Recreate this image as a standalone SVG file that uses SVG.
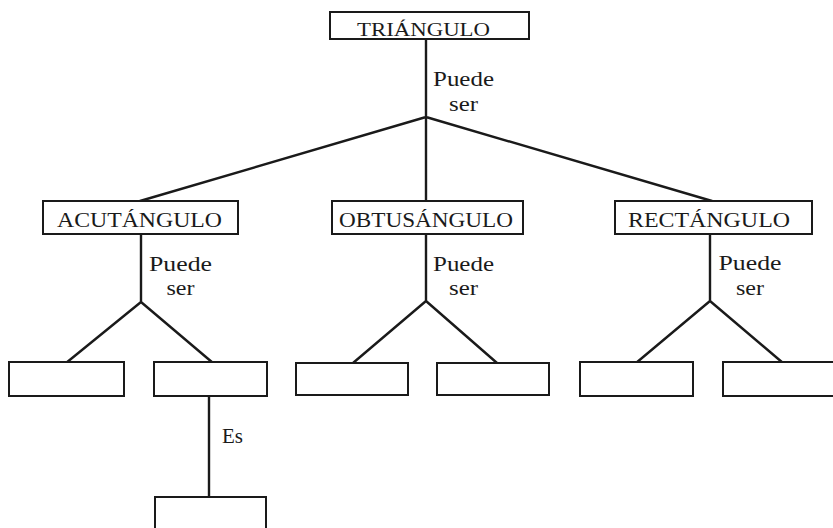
<svg xmlns="http://www.w3.org/2000/svg" width="833" height="528" viewBox="0 0 833 528">
<style>
.box{fill:#fff;stroke:#1a1a1a;stroke-width:2}
.ln{fill:none;stroke:#1a1a1a;stroke-width:2.4;stroke-linecap:round;stroke-linejoin:round}
.t{font-family:"Liberation Serif","Times New Roman",serif;fill:#1a1a1a;text-anchor:middle}
.n1{font-size:19px}
.n2{font-size:21px}
.lbl{font-size:20px}
</style>
<rect x="0" y="0" width="833" height="528" fill="#fff"/>
<g id="connectors">
  <path class="ln" d="M426,39 V117 M426,117 L140,201 M426,117 V201 M426,117 L712,201"/>
  <path class="ln" d="M141,234 V302 M141,302 L66,363 M141,302 L213,363"/>
  <path class="ln" d="M426,234 V301 M426,301 L353,363 M426,301 L497,363"/>
  <path class="ln" d="M710,234 V301 M710,301 L636,363 M710,301 L783,363"/>
  <path class="ln" d="M209,396 V497"/>
  <text class="t lbl" x="463.5" y="86" textLength="61" lengthAdjust="spacingAndGlyphs">Puede</text>
  <text class="t lbl" x="463.5" y="111" textLength="29" lengthAdjust="spacingAndGlyphs">ser</text>
  <text class="t lbl" x="180.5" y="271" textLength="63" lengthAdjust="spacingAndGlyphs">Puede</text>
  <text class="t lbl" x="180.5" y="295" textLength="28" lengthAdjust="spacingAndGlyphs">ser</text>
  <text class="t lbl" x="463.5" y="271" textLength="61" lengthAdjust="spacingAndGlyphs">Puede</text>
  <text class="t lbl" x="463.5" y="295" textLength="29" lengthAdjust="spacingAndGlyphs">ser</text>
  <text class="t lbl" x="750" y="270" textLength="63" lengthAdjust="spacingAndGlyphs">Puede</text>
  <text class="t lbl" x="750" y="295" textLength="28" lengthAdjust="spacingAndGlyphs">ser</text>
  <text class="t lbl" x="232.5" y="443" textLength="21" lengthAdjust="spacingAndGlyphs">Es</text>
</g>
<g id="triangulo">
  <rect class="box" x="330" y="12" width="199" height="27"/>
  <text class="t n1" x="423.5" y="36" textLength="133" lengthAdjust="spacingAndGlyphs">TRIÁNGULO</text>
</g>
<g id="acutangulo">
  <rect class="box" x="43" y="201" width="195" height="33"/>
  <text class="t n2" x="139.5" y="227" textLength="165" lengthAdjust="spacingAndGlyphs">ACUTÁNGULO</text>
</g>
<g id="obtusangulo">
  <rect class="box" x="332" y="201" width="191" height="33"/>
  <text class="t n2" x="426" y="227" textLength="174" lengthAdjust="spacingAndGlyphs">OBTUSÁNGULO</text>
</g>
<g id="rectangulo">
  <rect class="box" x="615" y="201" width="197" height="33"/>
  <text class="t n2" x="709" y="227" textLength="162" lengthAdjust="spacingAndGlyphs">RECTÁNGULO</text>
</g>
<g id="acut-1"><rect class="box" x="9" y="362" width="115" height="34"/></g>
<g id="acut-2"><rect class="box" x="154" y="362" width="113" height="34"/></g>
<g id="obtu-1"><rect class="box" x="296" y="363" width="112" height="32"/></g>
<g id="obtu-2"><rect class="box" x="437" y="363" width="112" height="32"/></g>
<g id="rect-1"><rect class="box" x="580" y="362" width="113" height="34"/></g>
<g id="rect-2"><rect class="box" x="723" y="362" width="120" height="34"/></g>
<g id="es-child"><rect class="box" x="155" y="497" width="111" height="40"/></g>
</svg>
